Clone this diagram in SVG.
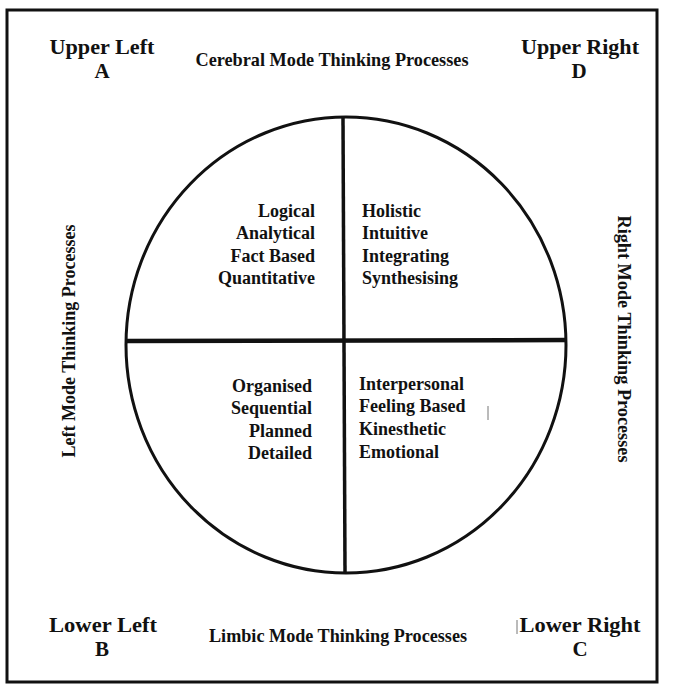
<svg xmlns="http://www.w3.org/2000/svg" width="676" height="689" viewBox="0 0 676 689">
<style>
text{font-family:"Liberation Serif","Times New Roman",serif;fill:#111;}
.corner{font-size:21px;font-weight:bold;}
.mode{font-size:19px;font-weight:bold;}
.q{font-size:18px;font-weight:bold;}
.line{stroke:#111;fill:none;}
.mark{stroke:#777;stroke-width:1;}
</style>
<rect x="0" y="0" width="676" height="689" fill="#fff"/>
<g id="frame">
<path class="line" d="M7,10 L7,682 L657,682 L657,10 Z" stroke-width="3"/>
</g>
<g id="labels">
<text class="corner" x="102" y="54" text-anchor="middle" textLength="105" lengthAdjust="spacingAndGlyphs">Upper Left</text>
<text class="corner" x="102" y="78" text-anchor="middle">A</text>
<text class="corner" x="580" y="54" text-anchor="middle" textLength="118" lengthAdjust="spacingAndGlyphs">Upper Right</text>
<text class="corner" x="579" y="78" text-anchor="middle">D</text>
<text class="corner" x="103" y="632" text-anchor="middle" textLength="108" lengthAdjust="spacingAndGlyphs">Lower Left</text>
<text class="corner" x="102" y="656" text-anchor="middle">B</text>
<text class="corner" x="580" y="632" text-anchor="middle" textLength="121" lengthAdjust="spacingAndGlyphs">Lower Right</text>
<text class="corner" x="580" y="656" text-anchor="middle">C</text>
<text class="mode" x="332" y="66" text-anchor="middle" textLength="273" lengthAdjust="spacingAndGlyphs">Cerebral Mode Thinking Processes</text>
<text class="mode" x="338" y="642" text-anchor="middle" textLength="258" lengthAdjust="spacingAndGlyphs">Limbic Mode Thinking Processes</text>
<text class="mode" transform="translate(75,341) rotate(-90)" text-anchor="middle" textLength="233" lengthAdjust="spacingAndGlyphs">Left Mode Thinking Processes</text>
<text class="mode" transform="translate(618,339) rotate(90)" text-anchor="middle" textLength="247" lengthAdjust="spacingAndGlyphs">Right Mode Thinking Processes</text>
</g>
<g id="circle">
<ellipse class="line" cx="346" cy="345" rx="220" ry="228" stroke-width="3"/>
</g>
<g id="connectors">
<line class="line" x1="343" y1="118" x2="345" y2="572" stroke-width="3.5"/>
<line class="line" x1="126" y1="341" x2="567" y2="340" stroke-width="4.5"/>
</g>
<g id="upper-left">
<text class="q" x="315" y="217" text-anchor="end">Logical</text>
<text class="q" x="315" y="239" text-anchor="end">Analytical</text>
<text class="q" x="315" y="262" text-anchor="end">Fact Based</text>
<text class="q" x="315" y="284" text-anchor="end">Quantitative</text>
</g>
<g id="upper-right">
<text class="q" x="362" y="217">Holistic</text>
<text class="q" x="362" y="239">Intuitive</text>
<text class="q" x="362" y="262">Integrating</text>
<text class="q" x="362" y="284">Synthesising</text>
</g>
<g id="lower-left">
<text class="q" x="312" y="392" text-anchor="end">Organised</text>
<text class="q" x="312" y="414" text-anchor="end">Sequential</text>
<text class="q" x="312" y="437" text-anchor="end">Planned</text>
<text class="q" x="312" y="459" text-anchor="end">Detailed</text>
</g>
<g id="lower-right">
<text class="q" x="359" y="390">Interpersonal</text>
<text class="q" x="359" y="412">Feeling Based</text>
<text class="q" x="359" y="435">Kinesthetic</text>
<text class="q" x="359" y="458">Emotional</text>
</g>
<g id="marks">
<line class="mark" x1="488" y1="406" x2="488" y2="420"/>
<line class="mark" x1="517" y1="620" x2="517" y2="634"/>
</g>
</svg>
